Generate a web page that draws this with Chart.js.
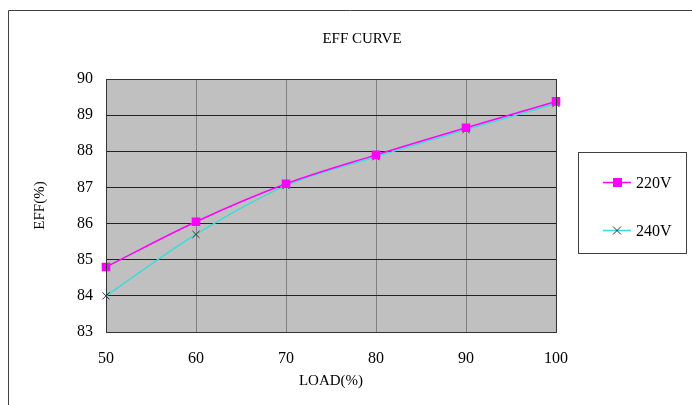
<!DOCTYPE html>
<html>
<head>
<meta charset="utf-8">
<script src="https://cdn.jsdelivr.net/npm/chart.js@4"></script>
<style>
  html, body { margin:0; padding:0; background:#fff; }
  #wrap { position:relative; width:692px; height:405px; }
</style>
</head>
<body>
<div id="wrap"><canvas id="effChart" width="692" height="405"></canvas></div>
<script>
// values
const loads = [50, 60, 70, 80, 90, 100];
const eff220 = [84.8, 86.05, 87.1, 87.9, 88.65, 89.38];
const eff240 = [84.0, 85.7, 87.05, 87.85, 88.6, 89.32];
const seriesNames = ['220V', '240V'];
const yTicks = [83, 84, 85, 86, 87, 88, 89, 90];

const FONT = "'Liberation Serif', 'DejaVu Serif', serif";

// gray plot area, outer frame, title, legend box
const decor = {
    id: 'decor',
    beforeDraw(chart) {
        const c = chart.ctx, a = chart.chartArea;
        c.save();
        c.fillStyle = '#fff';
        c.fillRect(0, 0, chart.width, chart.height);
        c.fillStyle = '#c0c0c0';
        c.fillRect(a.left, a.top, a.right - a.left, a.bottom - a.top);
        c.strokeStyle = '#404040';
        c.lineWidth = 1;
        c.beginPath();
        c.moveTo(8.5, chart.height); c.lineTo(8.5, 10.5); c.lineTo(chart.width, 10.5);
        c.stroke();
        c.restore();
    },
    afterDraw(chart) {
        const c = chart.ctx, a = chart.chartArea;
        c.save();
        c.strokeStyle = '#333';
        c.lineWidth = 1;
        c.strokeRect(Math.round(a.left) + 0.5, Math.round(a.top) + 0.5, Math.round(a.right - a.left), Math.round(a.bottom - a.top));
        c.fillStyle = '#000';
        c.font = '15px ' + FONT;
        c.textAlign = 'center';
        c.textBaseline = 'middle';
        c.fillText('EFF CURVE', 362, 39);

        // legend
        c.fillStyle = '#fff';
        c.fillRect(578, 152, 108, 101);
        c.strokeStyle = '#404040';
        c.strokeRect(578.5, 152.5, 108, 101);
        const rows = [182, 230];
        chart.data.datasets.forEach((ds, i) => {
            const y = rows[i] + 0.5;
            c.strokeStyle = ds.borderColor;
            c.lineWidth = 1.5;
            c.beginPath(); c.moveTo(603, y); c.lineTo(631, y); c.stroke();
            c.lineWidth = 1;
            if (ds.pointStyle === 'rect') {
                c.fillStyle = ds.pointBackgroundColor;
                c.fillRect(613, y - 4.5, 9, 9);
            } else {
                c.strokeStyle = ds.pointBorderColor;
                c.beginPath();
                c.moveTo(613, y - 4); c.lineTo(621, y + 4);
                c.moveTo(621, y - 4); c.lineTo(613, y + 4);
                c.stroke();
            }
            c.fillStyle = '#000';
            c.font = '16px ' + FONT;
            c.textAlign = 'left';
            c.fillText(seriesNames[i], 636, y + 1);
        });
        c.restore();
    }
};

new Chart(document.getElementById('effChart'), {
    type: 'line',
    data: {
        datasets: [
            {
                label: seriesNames[0],
                data: loads.map((x, i) => ({ x: x, y: eff220[i] })),
                borderColor: '#ff00ff',
                borderWidth: 1.5,
                pointStyle: 'rect',
                pointRadius: 5,
                pointBackgroundColor: '#ff00ff',
                pointBorderColor: '#ff00ff',
                cubicInterpolationMode: 'monotone',
                clip: false
            },
            {
                label: seriesNames[1],
                data: loads.map((x, i) => ({ x: x, y: eff240[i] })),
                borderColor: '#3ddcdc',
                borderWidth: 1.5,
                pointStyle: 'crossRot',
                pointRadius: 5,
                pointBorderWidth: 1,
                pointBorderColor: '#333',
                pointBackgroundColor: '#333',
                cubicInterpolationMode: 'monotone',
                clip: false
            }
        ]
    },
    options: {
        responsive: false,
        animation: false,
        layout: { padding: { left: 0, right: 136, top: 79, bottom: 0 } },
        plugins: { legend: { display: false }, tooltip: { enabled: false } },
        scales: {
            x: {
                type: 'linear', min: 50, max: 100,
                afterFit(s) { s.height = 73; },
                afterBuildTicks(s) { s.ticks = loads.map(v => ({ value: v })); },
                grid: { color: '#808080', drawTicks: false },
                border: { display: false },
                ticks: { color: '#000', padding: 17, font: { family: FONT, size: 16 } },
                title: { display: true, text: 'LOAD(%)', color: '#000', padding: { top: 0, bottom: 15 }, font: { family: FONT, size: 15 } }
            },
            y: {
                min: 83, max: 90,
                afterFit(s) { s.width = 106; },
                afterBuildTicks(s) { s.ticks = yTicks.map(v => ({ value: v })); },
                grid: { color: '#222', drawTicks: false },
                border: { display: false },
                ticks: { color: '#000', padding: 13, font: { family: FONT, size: 16 } },
                title: { display: true, text: 'EFF(%)', color: '#000', padding: { top: 31, bottom: 0 }, font: { family: FONT, size: 15 } }
            }
        }
    },
    plugins: [decor]
});
</script>
</body>
</html>
